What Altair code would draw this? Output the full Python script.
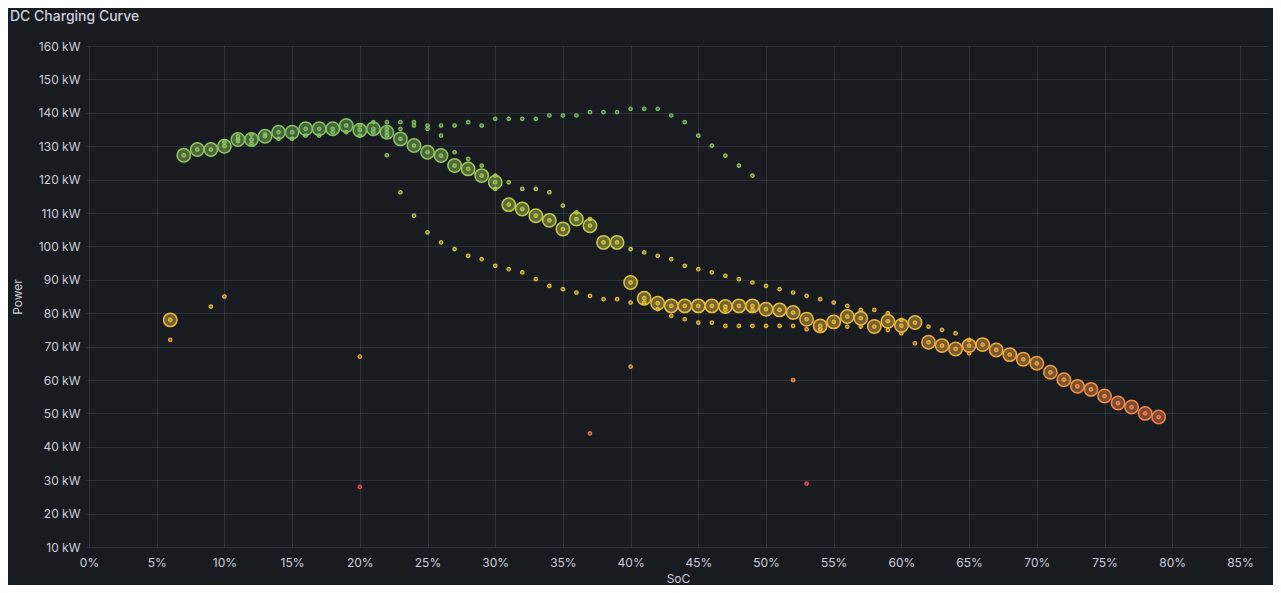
import altair as alt
import pandas as pd

# ---- data ----
# large circles: (SoC %, power kW)
big_soc = list(range(6, 80))
big_kw = [78, 127.3, 129, 129, 130, 132, 132, 133, 134.2, 134.2,
          135.2, 135.2, 135.2, 136.2, 134.8, 135.2, 134.2, 132.2, 130.2, 128.2,
          127.2, 124.2, 123.2, 121.2, 119.2, 112.5, 111.2, 109.2, 107.8, 105.2,
          108.2, 106.2, 101.2, 101.2, 89.2, 84.5, 83, 82.2, 82.2, 82.2,
          82.2, 82, 82.2, 82.2, 81.2, 81, 80.2, 78.2, 76.2, 77.4,
          79, 78.5, 76, 77.6, 76.3, 77.2, 71.3, 70.3, 69.3, 70.3,
          70.6, 69, 67.6, 66.2, 65, 62.3, 60.1, 58.1, 57.2, 55.2,
          53.1, 51.9, 50, 48.9]

# additional small points (SoC %, power kW)
extra_soc = [6, 9, 10, 10, 11, 11, 12, 12, 13, 14, 15, 16, 17, 18, 19,
             20, 20, 20, 20, 21, 21, 22, 22, 22, 22,
             23, 23, 23, 24, 24, 24, 25, 25, 25, 26, 26, 26, 27, 27, 27,
             28, 28, 28, 29, 29, 29, 30, 30, 30, 30, 31, 31, 31, 32, 32, 32,
             33, 33, 33, 34, 34, 34, 35, 35, 35, 36, 36, 36, 37, 37, 37, 37,
             38, 38, 39, 39, 40, 40, 40, 40, 41, 41, 41, 42, 42, 42,
             43, 43, 43, 44, 44, 44, 45, 45, 45, 46, 46, 46,
             47, 47, 47, 47, 48, 48, 48, 49, 49, 49, 49, 50, 50, 51, 51,
             52, 52, 52, 53, 53, 53, 54, 54, 55, 56, 56, 57, 57, 58,
             59, 59, 60, 60, 61, 62, 63, 64, 65, 65]
extra_kw = [72, 82, 85, 131.2, 133, 131.5, 133.5, 130.8, 133.5, 132.2, 132.2, 133.2, 133.2, 134.2, 134.2,
            28, 67, 136.2, 133.2, 137.2, 134.2, 127.3, 137.2, 135.2, 133.2,
            116.2, 135.2, 137.2, 109.2, 136.2, 137.2, 104.2, 135.2, 136.2, 101.2, 133.2, 136.2, 99.2, 128.2, 136.2,
            97.2, 126.2, 137.2, 96.2, 124.2, 136.2, 94.2, 117.2, 121.2, 138.2, 93.2, 119.2, 138.2, 92.2, 117.2, 138.2,
            90.2, 117.2, 138.2, 88.2, 116.2, 139.2, 87.2, 112.2, 139.2, 86.2, 110.2, 139.2, 44, 85.2, 108.2, 140.2,
            84.2, 140.2, 84.2, 140.2, 64, 83.2, 99.2, 141.2, 83.2, 98.2, 141.2, 81.2, 97.2, 141.2,
            79.2, 96.2, 139.2, 78.2, 94.2, 137.2, 77.2, 93.2, 133.2, 77.2, 92.2, 130.2,
            76.2, 81, 91.2, 127.2, 76.2, 90.2, 124.2, 76.2, 81, 89.2, 121.2, 76.2, 88.2, 76.2, 87.2,
            60, 76.2, 86.2, 29, 75.2, 85.2, 75.2, 84.2, 83.2, 76, 82.2, 76, 81, 81,
            75, 80, 74, 78, 71, 76, 75, 74, 68, 72]

x_ticks = list(range(0, 90, 5))
y_ticks = list(range(10, 170, 10))

big = pd.DataFrame({"soc": big_soc, "kw": big_kw})
small = pd.DataFrame({"soc": big_soc + extra_soc, "kw": big_kw + extra_kw})

# ---- colour scale: red -> yellow -> green, B-spline (basis) interpolated ----
SCHEME = ["#F2495C", "#FADE2A", "#73BF69"]


def _rgb(h):
    return [int(h[i:i + 2], 16) for i in (1, 3, 5)]


def _basis(values, t):
    n = len(values) - 1
    if t <= 0:
        t, i = 0.0, 0
    elif t >= 1:
        t, i = 1.0, n - 1
    else:
        i = int(t * n)
    v1, v2 = values[i], values[i + 1]
    v0 = values[i - 1] if i > 0 else 2 * v1 - v2
    v3 = values[i + 2] if i < n - 1 else 2 * v2 - v1
    t1 = (t - i / n) * n
    t2, t3 = t1 * t1, t1 * t1 * t1
    return ((1 - 3 * t1 + 3 * t2 - t3) * v0 + (4 - 6 * t2 + 3 * t3) * v1
            + (1 + 3 * t1 + 3 * t2 - 3 * t3) * v2 + t3 * v3) / 6


chans = list(zip(*[_rgb(c) for c in SCHEME]))
all_kw = big_kw + extra_kw
lo, hi = min(all_kw), max(all_kw)
steps = 24
c_domain, c_range = [], []
for k in range(steps + 1):
    t = k / steps
    rgb = [max(0, min(255, round(_basis(list(ch), t)))) for ch in chans]
    c_domain.append(lo + (hi - lo) * t)
    c_range.append("#%02x%02x%02x" % tuple(rgb))
cscale = alt.Scale(domain=c_domain, range=c_range, interpolate="rgb")

BG = "#181b1f"
TXT = "#ccccdc"
FONT = "Inter"

xenc = alt.X("soc:Q", scale=alt.Scale(domain=[0, 87], nice=False, zero=False),
             axis=alt.Axis(values=x_ticks, labelExpr="datum.value + '%'", title="SoC",
                           ticks=False, domain=False, labelPadding=10, titlePadding=5,
                           labelFlush=False, labelOverlap=False))
yenc = alt.Y("kw:Q", scale=alt.Scale(domain=[10, 160], nice=False, zero=False),
             axis=alt.Axis(values=y_ticks, labelExpr="datum.value + ' kW'", title="Power",
                           tickSize=3, domain=False, labelPadding=6, titlePadding=14,
                           labelOverlap=False, labelFlush=False, labelBound=False))
fill_enc = alt.Fill("kw:Q", scale=cscale, legend=None)
stroke_enc = alt.Stroke("kw:Q", scale=cscale, legend=None)

big_layer = alt.Chart(big).mark_circle(size=180, fillOpacity=0.45, strokeOpacity=1,
                                       strokeWidth=1.5, opacity=1).encode(
    x=xenc, y=yenc, fill=fill_enc, stroke=stroke_enc,
)

small_layer = alt.Chart(small).mark_circle(size=12, fillOpacity=0.5, strokeOpacity=1,
                                           strokeWidth=1.2, opacity=1).encode(
    x=xenc, y=yenc, fill=fill_enc, stroke=stroke_enc,
)

title_df = pd.DataFrame({"t": ["DC Charging Curve"]})
title_layer = alt.Chart(title_df).mark_text(
    align="left", baseline="middle", font=FONT, fontSize=14, fontWeight=500, color=TXT
).encode(x=alt.value(-79), y=alt.value(-29), text="t:N")

chart = alt.layer(big_layer, small_layer, title_layer).properties(
    width=1178, height=501,
    autosize=alt.AutoSizeParams(type="none"),
    padding={"left": 81, "top": 38, "right": 6, "bottom": 38},
    background=BG,
).configure_view(stroke=None).configure_axis(
    gridColor=TXT, gridOpacity=0.13, tickColor=TXT, tickOpacity=0.13,
    labelColor=TXT, labelFont=FONT, labelFontSize=12, titleColor=TXT,
    titleFont=FONT, titleFontSize=12, titleFontWeight="normal",
    labelOverlap=False,
)

chart.save("out.html", embed_options={"renderer": "svg", "actions": False})
